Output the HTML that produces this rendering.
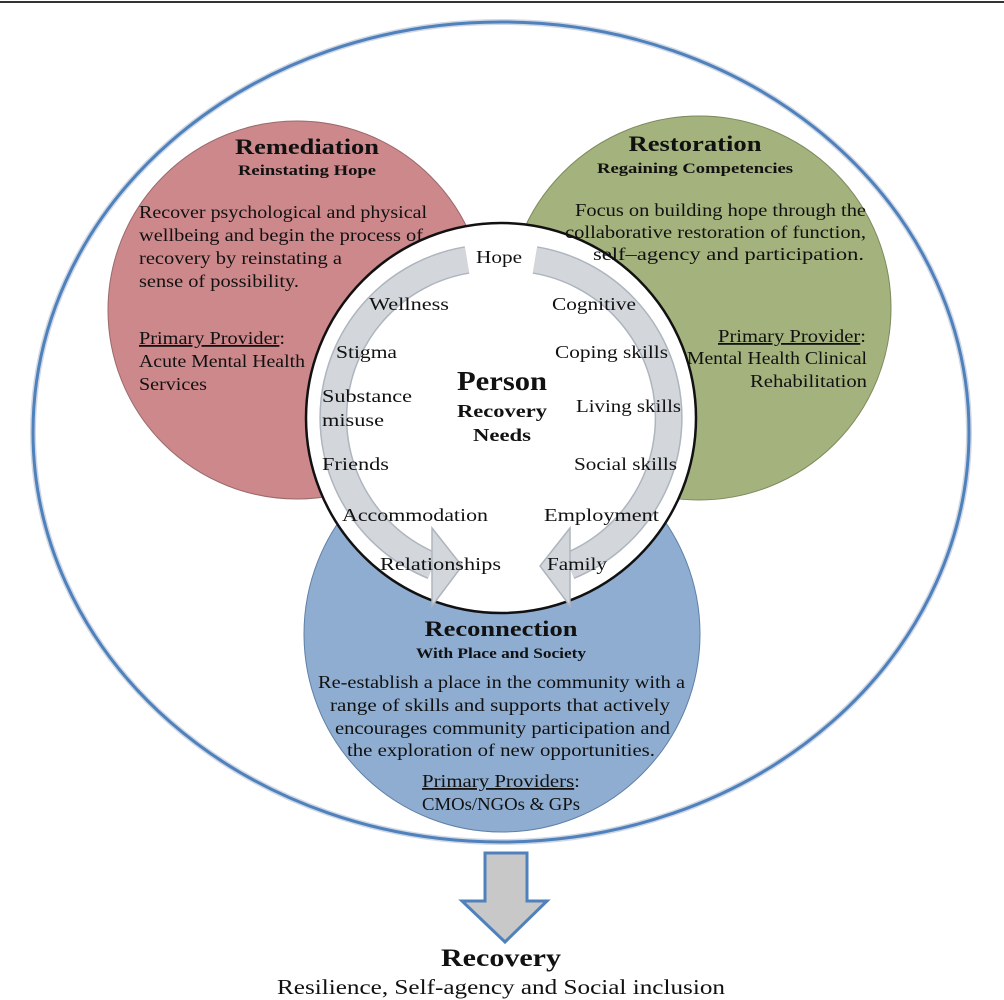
<!DOCTYPE html>
<html><head><meta charset="utf-8"><style>
html,body{margin:0;padding:0;background:#fff;}
svg{display:block;}
text{font-family:"Liberation Serif",serif;fill:#111;}
.b{font-weight:bold;}
</style></head><body>
<svg width="1004" height="1000" viewBox="0 0 1004 1000" xmlns="http://www.w3.org/2000/svg">
<line x1="0" y1="2" x2="1004" y2="2" stroke="#333" stroke-width="2"/>
<circle cx="297" cy="310" r="189" fill="#cd888c" stroke="#9a6a6c" stroke-width="1"/>
<circle cx="699" cy="308" r="192" fill="#a4b27d" stroke="#7d8a5e" stroke-width="1"/>
<circle cx="502" cy="634" r="198" fill="#8fadd0" stroke="#5f80a8" stroke-width="1"/>
<ellipse cx="501" cy="432" rx="468" ry="410" fill="none" stroke="#d0d8e4" stroke-width="6"/>
<ellipse cx="501" cy="432" rx="468" ry="410" fill="none" stroke="#4f81bd" stroke-width="3"/>
<circle cx="501" cy="418" r="195" fill="#fff" stroke="#111" stroke-width="2.5"/>
<g fill="none" stroke-linecap="butt">
<path d="M467,260 A160,160 0 0 0 433,566" stroke="#aeb5be" stroke-width="28"/>
<path d="M467,260 A160,160 0 0 0 433,566" stroke="#d3d7dc" stroke-width="25"/>
<path d="M535,260 A160,160 0 0 1 569,566" stroke="#aeb5be" stroke-width="28"/>
<path d="M535,260 A160,160 0 0 1 569,566" stroke="#d3d7dc" stroke-width="25"/>
</g>
<polygon points="432,528 462,566 432,606" fill="#d3d7dc" stroke="#aeb5be" stroke-width="1.5"/>
<polygon points="570,528 540,566 570,606" fill="#d3d7dc" stroke="#aeb5be" stroke-width="1.5"/>
<polygon points="485,853 527,853 527,901 547,901 505,942 462,901 485,901" fill="#c8c8c8" stroke="#4f81bd" stroke-width="3"/>

<text x="307" y="154" text-anchor="middle" class="b" font-size="22" textLength="144" lengthAdjust="spacingAndGlyphs">Remediation</text>
<text x="307" y="175" text-anchor="middle" class="b" font-size="15" textLength="138" lengthAdjust="spacingAndGlyphs">Reinstating Hope</text>
<g font-size="18" lengthAdjust="spacingAndGlyphs">
<text x="139" y="218" textLength="288" lengthAdjust="spacingAndGlyphs">Recover psychological and physical</text>
<text x="139" y="241" textLength="284" lengthAdjust="spacingAndGlyphs">wellbeing and begin the process of</text>
<text x="139" y="264" textLength="203" lengthAdjust="spacingAndGlyphs">recovery by reinstating a</text>
<text x="139" y="287" textLength="160" lengthAdjust="spacingAndGlyphs">sense of possibility.</text>
<text x="139" y="344" textLength="146" lengthAdjust="spacingAndGlyphs"><tspan text-decoration="underline">Primary Provider</tspan>:</text>
<text x="139" y="367" textLength="166" lengthAdjust="spacingAndGlyphs">Acute Mental Health</text>
<text x="139" y="390" textLength="68" lengthAdjust="spacingAndGlyphs">Services</text>
</g>

<text x="695" y="151" text-anchor="middle" class="b" font-size="22" textLength="133" lengthAdjust="spacingAndGlyphs">Restoration</text>
<text x="695" y="173" text-anchor="middle" class="b" font-size="15" textLength="196" lengthAdjust="spacingAndGlyphs">Regaining Competencies</text>
<g font-size="18" text-anchor="end">
<text x="866" y="216" textLength="291" lengthAdjust="spacingAndGlyphs">Focus on building hope through the</text>
<text x="866" y="238" textLength="301" lengthAdjust="spacingAndGlyphs">collaborative restoration of function,</text>
<text x="864" y="260" textLength="271" lengthAdjust="spacingAndGlyphs">self–agency and participation.</text>
<text x="866" y="342" textLength="148" lengthAdjust="spacingAndGlyphs"><tspan text-decoration="underline">Primary Provider</tspan>:</text>
<text x="867" y="364" textLength="180" lengthAdjust="spacingAndGlyphs">Mental Health Clinical</text>
<text x="867" y="387" textLength="117" lengthAdjust="spacingAndGlyphs">Rehabilitation</text>
</g>

<text x="501" y="636" text-anchor="middle" class="b" font-size="22" textLength="153" lengthAdjust="spacingAndGlyphs">Reconnection</text>
<text x="501" y="658" text-anchor="middle" class="b" font-size="15" textLength="170" lengthAdjust="spacingAndGlyphs">With Place and Society</text>
<g font-size="18">
<text x="318" y="688" textLength="367" lengthAdjust="spacingAndGlyphs">Re-establish a place in the community with a</text>
<text x="330" y="711" textLength="340" lengthAdjust="spacingAndGlyphs">range of skills and supports that actively</text>
<text x="335" y="734" textLength="335" lengthAdjust="spacingAndGlyphs">encourages community participation and</text>
<text x="347" y="756" textLength="308" lengthAdjust="spacingAndGlyphs">the exploration of new opportunities.</text>
<text x="422" y="787" textLength="158" lengthAdjust="spacingAndGlyphs"><tspan text-decoration="underline">Primary Providers</tspan>:</text>
<text x="422" y="810" textLength="158" lengthAdjust="spacingAndGlyphs">CMOs/NGOs &amp; GPs</text>
</g>

<g font-size="18">
<text x="476" y="263" textLength="46" lengthAdjust="spacingAndGlyphs">Hope</text>
<text x="369" y="310" textLength="80" lengthAdjust="spacingAndGlyphs">Wellness</text>
<text x="552" y="310" textLength="84" lengthAdjust="spacingAndGlyphs">Cognitive</text>
<text x="336" y="358" textLength="61" lengthAdjust="spacingAndGlyphs">Stigma</text>
<text x="555" y="358" textLength="113" lengthAdjust="spacingAndGlyphs">Coping skills</text>
<text x="322" y="402" textLength="90" lengthAdjust="spacingAndGlyphs">Substance</text>
<text x="322" y="426" textLength="62" lengthAdjust="spacingAndGlyphs">misuse</text>
<text x="576" y="412" textLength="105" lengthAdjust="spacingAndGlyphs">Living skills</text>
<text x="322" y="470" textLength="67" lengthAdjust="spacingAndGlyphs">Friends</text>
<text x="574" y="470" textLength="103" lengthAdjust="spacingAndGlyphs">Social skills</text>
<text x="342" y="521" textLength="146" lengthAdjust="spacingAndGlyphs">Accommodation</text>
<text x="544" y="521" textLength="115" lengthAdjust="spacingAndGlyphs">Employment</text>
<text x="380" y="570" textLength="121" lengthAdjust="spacingAndGlyphs">Relationships</text>
<text x="547" y="570" textLength="60" lengthAdjust="spacingAndGlyphs">Family</text>
</g>
<text x="502" y="390" text-anchor="middle" class="b" font-size="27" textLength="90" lengthAdjust="spacingAndGlyphs">Person</text>
<text x="502" y="417" text-anchor="middle" class="b" font-size="18" textLength="90" lengthAdjust="spacingAndGlyphs">Recovery</text>
<text x="502" y="441" text-anchor="middle" class="b" font-size="18" textLength="58" lengthAdjust="spacingAndGlyphs">Needs</text>

<text x="501" y="966" text-anchor="middle" class="b" font-size="25" textLength="120" lengthAdjust="spacingAndGlyphs">Recovery</text>
<text x="501" y="994" text-anchor="middle" font-size="21" textLength="448" lengthAdjust="spacingAndGlyphs">Resilience, Self-agency and Social inclusion</text>
</svg>
</body></html>
